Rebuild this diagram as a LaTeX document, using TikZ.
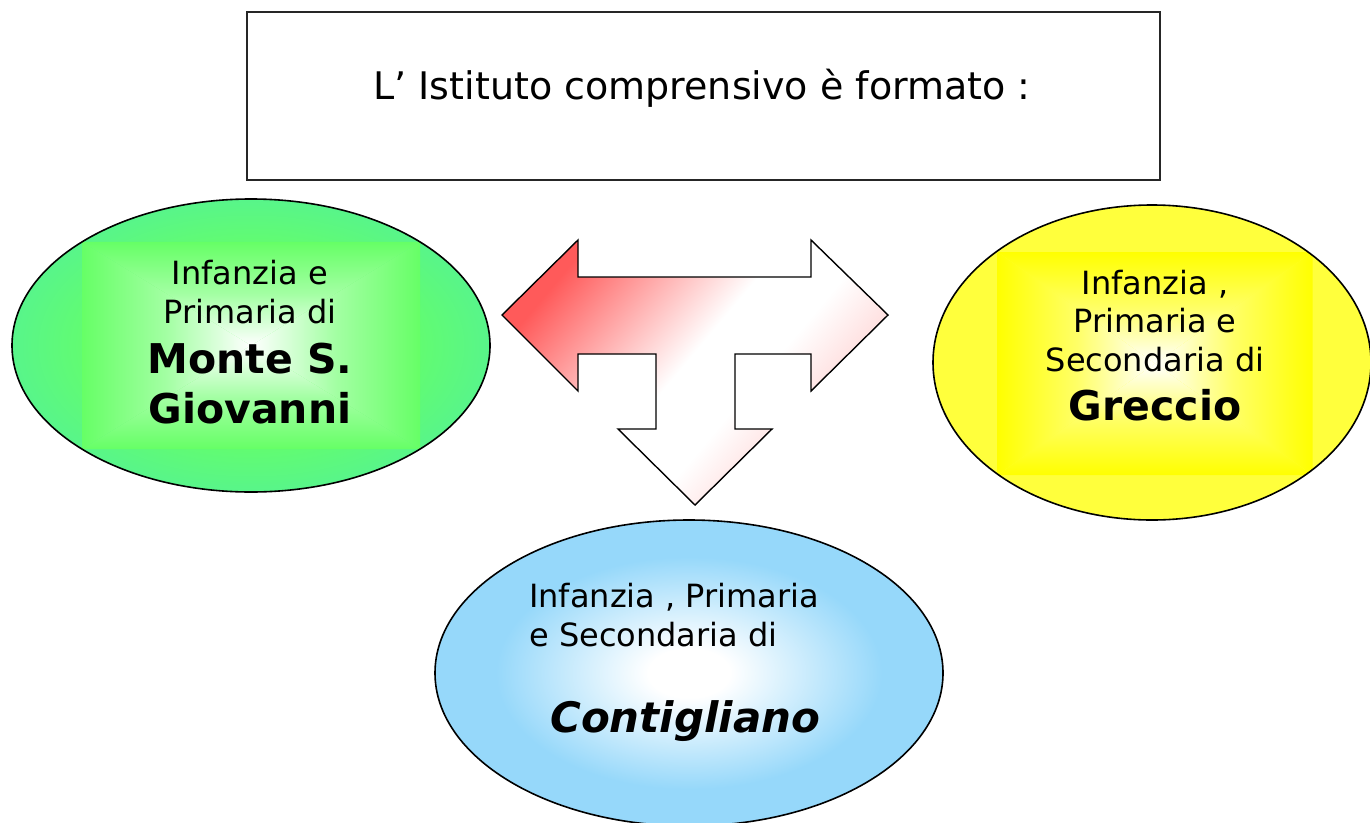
\documentclass[tikz,border=0pt]{standalone}
\usepackage{fontspec}
\setmainfont{DejaVu Sans}
\definecolor{grn}{RGB}{102,255,102}
\definecolor{grnedge}{RGB}{88,245,138}
\definecolor{yel}{RGB}{255,255,60}
\definecolor{yelin}{RGB}{255,255,0}
\definecolor{blu}{RGB}{150,216,250}
\definecolor{redtip}{RGB}{255,90,90}
\definecolor{pinkend}{RGB}{255,195,195}
\pgfdeclareradialshading{blueglow}{\pgfpoint{0bp}{0bp}}{color(0bp)=(white); color(4bp)=(white); color(19bp)=(blu); color(50bp)=(blu)}
\pgfdeclareradialshading{greenglow}{\pgfpoint{0bp}{0bp}}{color(0bp)=(grn); color(14bp)=(grn); color(25bp)=(grnedge); color(50bp)=(grnedge)}
\pgfdeclareverticalshading{tarrowshade}{100bp}{color(0bp)=(pinkend); color(25bp)=(pinkend); color(42bp)=(white); color(52bp)=(white); color(75bp)=(redtip); color(100bp)=(redtip)}
\newcommand\rectglow[6]{%
 \shade[top color=#6,bottom color=#5,middle color=#6!60!#5] ({#1-#3},{#2-#4}) -- ({#1+#3},{#2-#4}) -- (#1,#2) -- cycle;
 \shade[top color=#5,bottom color=#6,middle color=#6!60!#5] ({#1-#3},{#2+#4}) -- ({#1+#3},{#2+#4}) -- (#1,#2) -- cycle;
 \shade[left color=#6,right color=#5,middle color=#6!60!#5] ({#1-#3},{#2-#4}) -- ({#1-#3},{#2+#4}) -- (#1,#2) -- cycle;
 \shade[left color=#5,right color=#6,middle color=#6!60!#5] ({#1+#3},{#2-#4}) -- ({#1+#3},{#2+#4}) -- (#1,#2) -- cycle;}
\tikzset{
  outline/.style={draw=black, line width=1.6pt},
  normaltext/.style={anchor=base, inner sep=0pt, font=\fontsize{32}{38}\selectfont},
  boldtext/.style={anchor=base, inner sep=0pt, font=\fontsize{41}{48}\selectfont\bfseries},
}
\begin{document}
\begin{tikzpicture}[x=1pt,y=-1pt]
\useasboundingbox (0,0) rectangle (1370,822);
\fill[white] (0,0) rectangle (1370,822);

% title box
\node (titlebox) [draw=black!85, line width=1.3pt, minimum width=913pt, minimum height=168pt, inner sep=0pt] at (703.5,96) {};
\node (title) [anchor=base, inner sep=0pt, font=\fontsize{38}{46}\selectfont] at (702,99.3) {L’ Istituto comprensivo è formato :};

% green ellipse
\shade[shading=greenglow] (251,345.5) ellipse [x radius=239, y radius=146.5];
\begin{scope}
  \clip (251,345.5) ellipse [x radius=239, y radius=146.5];
  \rectglow{251}{345.5}{169}{103.6}{white}{grn}
\end{scope}
\draw[outline] (251,345.5) ellipse [x radius=239, y radius=146.5];
\node (m1) [normaltext] at (250,284) {Infanzia e};
\node (m2) [normaltext] at (250,323.3) {Primaria di};
\node (m3) [boldtext] at (250,373.3) {Monte S.};
\node (m4) [boldtext] at (250,423.3) {Giovanni};

% yellow ellipse
\fill[yel] (1152,362.5) ellipse [x radius=219, y radius=157.5];
\begin{scope}
  \clip (1152,362.5) ellipse [x radius=219, y radius=157.5];
  \rectglow{1155}{363.5}{157.5}{111.5}{white}{yelin}
\end{scope}
\draw[outline] (1152,362.5) ellipse [x radius=219, y radius=157.5];
\node (g1) [normaltext] at (1155,294) {Infanzia ,};
\node (g2) [normaltext] at (1155,332) {Primaria e};
\node (g3) [normaltext] at (1155,371) {Secondaria di};
\node (g4) [boldtext] at (1155,420) {Greccio};

% blue ellipse
\shade[shading=blueglow] (689,673) ellipse [x radius=254, y radius=153];
\draw[outline] (689,673) ellipse [x radius=254, y radius=153];
\node (c1) [normaltext, anchor=base west] at (529,607) {Infanzia , Primaria};
\node (c2) [normaltext, anchor=base west] at (529,646) {e Secondaria di};
\node (c3) [anchor=base west, inner sep=0pt, font=\fontsize{42}{48}\selectfont\bfseries\itshape] at (550,732) {Contigliano};

% T-shaped three-way arrow
\shadedraw[draw=black, line width=1.4pt, line join=miter,
  shading=tarrowshade, shading angle=50]
  (502,315) -- (578,240) -- (578,277) -- (811,277) -- (811,240) -- (888,315)
  -- (811,391) -- (811,354) -- (735,354) -- (735,429) -- (772,429) -- (695,505)
  -- (618,429) -- (656,429) -- (656,354) -- (578,354) -- (578,391) -- cycle;
\end{tikzpicture}
\end{document}
